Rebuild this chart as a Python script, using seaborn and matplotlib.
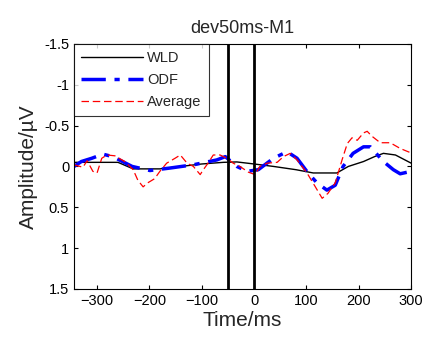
import matplotlib
matplotlib.use("Agg")
import matplotlib.pyplot as plt
import seaborn as sns
import pandas as pd

sns.set_style("white")
plt.rcParams['font.family'] = ['Liberation Sans', 'DejaVu Sans']

# WLD (smooth)
wld_t = [-344, -300, -260, -231, -200, -180, -140, -100, -59, -33, 0, 37, 80, 113, 158, 180, 209, 230, 247, 270, 300]
wld_v = [-0.05, -0.05, -0.05, 0.03, 0.03, 0.03, 0.0, -0.03, -0.05, -0.055, -0.03, 0.0, 0.04, 0.08, 0.08, 0.0, -0.06, -0.12, -0.16, -0.14, -0.04]

# ODF
odf_t = [-344, -330, -310, -289, -270, -233, -199, -161, -116, -71, -55, -33, -13, 8, 37, 63, 82, 103, 120, 139, 155, 170, 189, 209, 222, 247, 266, 279, 300]
odf_v = [0.0, -0.06, -0.1, -0.15, -0.12, 0.0, 0.05, 0.02, -0.02, -0.08, -0.12, 0.0, 0.06, 0.04, -0.1, -0.18, -0.1, 0.08, 0.2, 0.29, 0.23, 0.0, -0.16, -0.24, -0.24, -0.06, 0.04, 0.09, 0.06]

# Average (noisy)
avg_t = [-344, -327, -319, -308, -300, -291, -281, -266, -247, -231, -222, -212, -203, -190, -180, -167, -151, -141, -128, -116, -103, -97, -88, -78, -65, -52, -40, -27, -11, 2, 11, 25, 44, 56, 69, 82, 101, 117, 130, 141, 155, 168, 178, 187, 197, 209, 216, 225, 241, 260, 279, 298]
avg_v = [-0.02, 0.01, -0.07, 0.06, 0.08, -0.1, -0.14, -0.13, -0.06, 0.04, 0.17, 0.25, 0.2, 0.15, 0.06, -0.04, -0.1, -0.14, -0.04, 0.0, 0.1, 0.04, -0.04, -0.14, -0.14, -0.1, -0.04, 0.0, 0.07, 0.1, 0.0, -0.04, -0.05, -0.12, -0.16, -0.08, 0.08, 0.25, 0.39, 0.33, 0.2, -0.08, -0.28, -0.35, -0.32, -0.41, -0.43, -0.37, -0.29, -0.29, -0.22, -0.17]

markers_t = [-50, 0]
x_ticks = [-300, -200, -100, 0, 100, 200, 300]
y_ticks = [-1.5, -1, -0.5, 0, 0.5, 1, 1.5]
y_ticklabels = ["-1.5", "-1", "-0.5", "0", "0.5", "1", "1.5"]

fig = plt.figure(figsize=(4.23, 3.40), dpi=100)
ax = fig.add_axes([0.175, 0.15, 0.797, 0.721])

sns.lineplot(x=wld_t, y=wld_v, ax=ax, color="black", lw=1.0, label="WLD")
sns.lineplot(x=odf_t, y=odf_v, ax=ax, color="#0000ff", lw=2.5, label="ODF",
             dashes=False)
ax.lines[-1].set_dashes([7, 2.5, 1.5, 2.5])
sns.lineplot(x=avg_t, y=avg_v, ax=ax, color="#ff0000", lw=0.9, label="Average")
ax.lines[-1].set_dashes([6, 3])

for t in markers_t:
    ax.axvline(t, color="black", lw=2.0)

ax.set_xlim(-344, 300)
ax.set_ylim(1.5, -1.5)
ax.set_xticks(x_ticks)
ax.set_yticks(y_ticks)
ax.set_yticklabels(y_ticklabels)
ax.tick_params(direction="in", length=3, width=0.8, labelsize=10.5, top=True, right=True,
               bottom=True, left=True, colors="black")
for s in ax.spines.values():
    s.set_color("black")
    s.set_linewidth(0.8)

ax.set_xlabel("Time/ms", fontsize=15, labelpad=2)
ax.set_ylabel("Amplitude/µV", fontsize=15, labelpad=4)
ax.set_title("dev50ms-M1", fontsize=13, pad=8)

leg = ax.legend(loc="upper left", fontsize=10.5, frameon=True, fancybox=False,
                borderaxespad=0, handlelength=4.2, borderpad=0.5, labelspacing=0.55,
                handletextpad=0.3)
leg.get_frame().set_edgecolor("black")
leg.get_frame().set_linewidth(0.8)

fig.savefig("out.png", dpi=100)
